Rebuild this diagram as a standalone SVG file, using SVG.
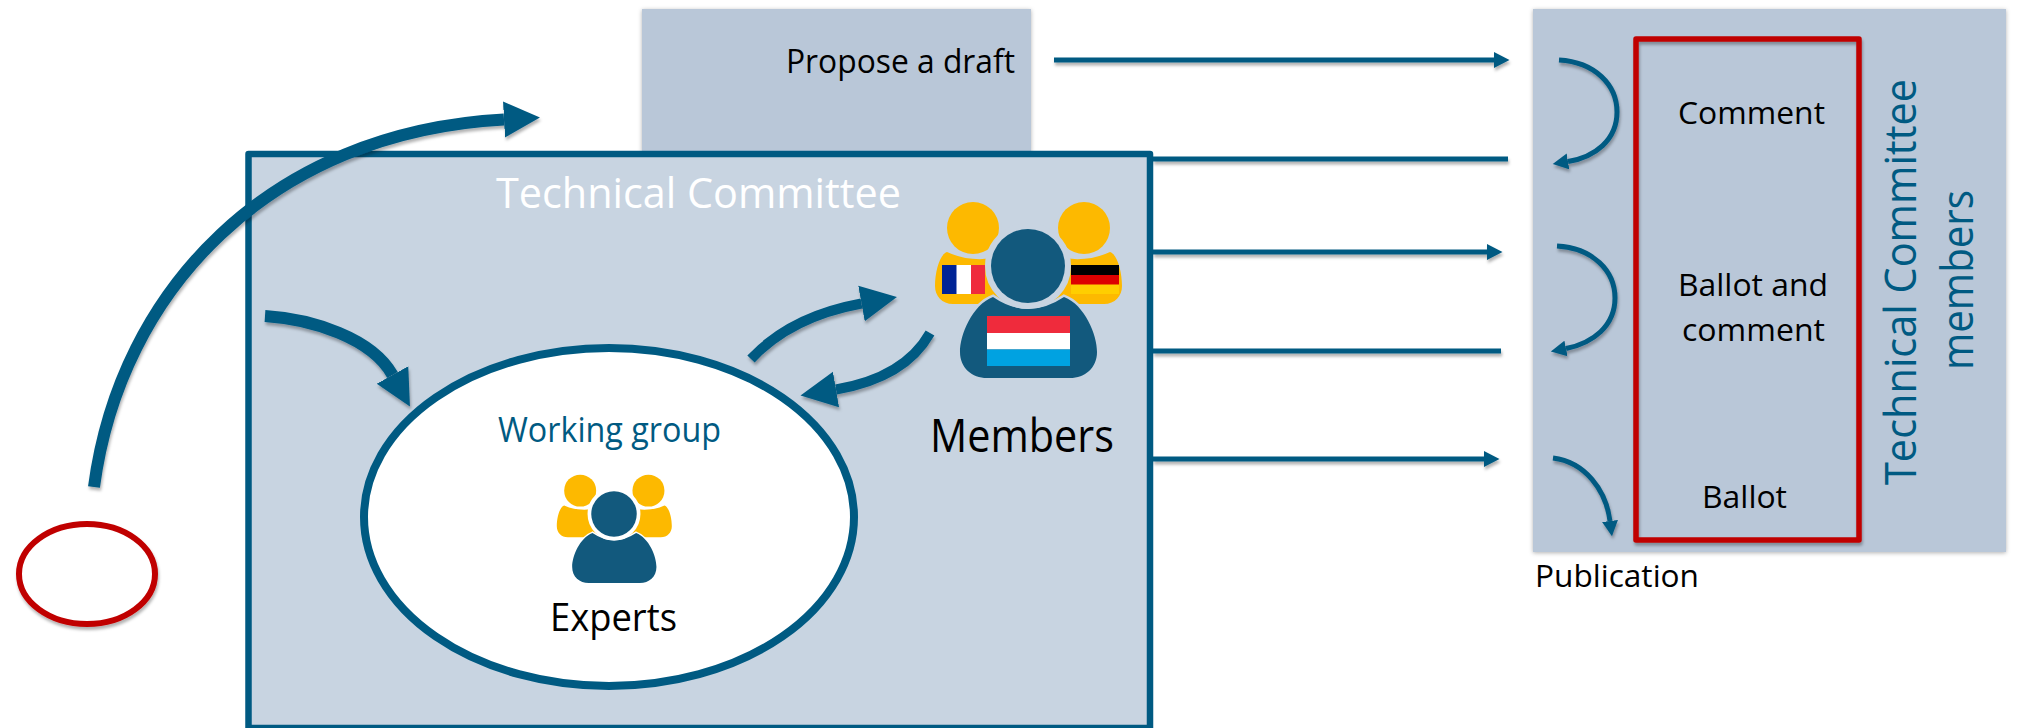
<svg xmlns="http://www.w3.org/2000/svg" xmlns:xlink="http://www.w3.org/1999/xlink" width="2018" height="728" viewBox="0 0 2018 728">
<style>
text{font-family:"Open Sans","Noto Sans","Liberation Sans",sans-serif;fill:#000}
.blue{fill:#005a82}
.white{fill:#fff}
.thin{fill:none;stroke:#005a82;stroke-width:5;marker-end:url(#hs);filter:url(#sh)}
.line{fill:none;stroke:#005a82;stroke-width:5;filter:url(#sh)}
.thick{fill:none;stroke:#005a82;stroke-width:12;marker-end:url(#hb);filter:url(#sh)}
.mid{fill:none;stroke:#005a82;stroke-width:10;marker-end:url(#hb);filter:url(#sh)}
.panel{fill:#b9c7d8;filter:url(#sh2)}
.y{fill:#fdb900}
.b{fill:#12597d}
</style>
<defs>
<filter id="sh" filterUnits="userSpaceOnUse" x="0" y="0" width="2018" height="728"><feDropShadow dx="1" dy="3" stdDeviation="1.800" flood-color="#000" flood-opacity="0.3"/></filter>
<filter id="sh2" filterUnits="userSpaceOnUse" x="0" y="0" width="2018" height="728"><feDropShadow dx="0" dy="1" stdDeviation="2" flood-color="#000" flood-opacity="0.3"/></filter>
<marker id="hs" markerUnits="userSpaceOnUse" markerWidth="18" markerHeight="20" refX="0" refY="10" orient="auto"><path d="M0 2L15.500 10L0 18Z" fill="#005a82"/></marker>
<marker id="hb" markerUnits="userSpaceOnUse" markerWidth="38" markerHeight="38" refX="0" refY="19" orient="auto"><path d="M0 1L36 19L0 37Z" fill="#005a82"/></marker>
<g id="people">
<path class="y" d="M-81-14C-88-12-93 5-93 20C-93 30-86 38-75 38L-25 38L-25-10Q-55-2-81-14Z"/>
<path class="y" d="M82-14C89-12 94 5 94 20C94 30 87 38 76 38L26 38L26-10Q56-2 82-14Z"/>
<circle class="y" cx="-55" cy="-38" r="26" stroke="currentColor" stroke-width="6" paint-order="stroke"/>
<circle class="y" cx="56" cy="-38" r="26" stroke="currentColor" stroke-width="6" paint-order="stroke"/>
<path class="b" d="M-35 31C-56 39-68 69-68 86C-68 102-56 112-41 112L42 112C57 112 69 102 69 86C69 69 57 39 36 31Q0 55-35 31Z" stroke="currentColor" stroke-width="5" paint-order="stroke"/>
<circle class="b" cx="0" cy="0" r="37" stroke="currentColor" stroke-width="12" paint-order="stroke"/>
</g>
</defs>

<g id="draft-box">
<rect class="panel" x="642" y="9" width="389" height="143"/>
<text x="786" y="73" font-size="32" textLength="229" lengthAdjust="spacingAndGlyphs">Propose a draft</text>
</g>

<g id="technical-committee">
<rect x="248.500" y="154" width="901.500" height="574" fill="#c8d4e1" stroke="#005a82" stroke-width="6.500" stroke-linejoin="round"/>
<text class="white" x="496" y="208" font-size="42" textLength="405" lengthAdjust="spacingAndGlyphs">Technical Committee</text>
</g>

<g id="tc-panel">
<rect class="panel" x="1533" y="9" width="473" height="543"/>
<text class="blue" transform="translate(1916 485) rotate(-90)" font-size="44" textLength="406" lengthAdjust="spacingAndGlyphs">Technical Committee</text>
<text class="blue" transform="translate(1973 370) rotate(-90)" font-size="44" textLength="180" lengthAdjust="spacingAndGlyphs">members</text>
</g>

<g id="ballot-box">
<rect x="1636" y="39" width="223" height="501" fill="none" stroke="#c00000" stroke-width="5.500" stroke-linejoin="round" filter="url(#sh)"/>
<text x="1678" y="124" font-size="31" textLength="147" lengthAdjust="spacingAndGlyphs">Comment</text>
<text x="1678" y="296" font-size="31" textLength="150" lengthAdjust="spacingAndGlyphs">Ballot and</text>
<text x="1682" y="341" font-size="31" textLength="143" lengthAdjust="spacingAndGlyphs">comment</text>
<text x="1702" y="508" font-size="31" textLength="85" lengthAdjust="spacingAndGlyphs">Ballot</text>
</g>

<g id="publication">
<text x="1535" y="587" font-size="31" textLength="164" lengthAdjust="spacingAndGlyphs">Publication</text>
</g>

<g id="start">
<ellipse cx="87" cy="574" rx="68" ry="50" fill="#fff" stroke="#c00000" stroke-width="6" filter="url(#sh)"/>
</g>

<g id="working-group">
<ellipse cx="609" cy="517" rx="245" ry="169" fill="#fff" stroke="#005a82" stroke-width="8"/>
<text class="blue" x="498" y="442" font-size="34" textLength="223" lengthAdjust="spacingAndGlyphs">Working group</text>
<use href="#people" xlink:href="#people" transform="translate(614 514) scale(.615)" color="#fff"/>
<text x="550" y="631" font-size="39" textLength="127" lengthAdjust="spacingAndGlyphs">Experts</text>
</g>

<g id="members">
<use href="#people" xlink:href="#people" transform="translate(1028 266)" color="#c8d4e1"/>
<rect x="942" y="265" width="15" height="29" fill="#002395"/>
<rect x="956.500" y="265" width="14.500" height="29" fill="#fff"/>
<rect x="971" y="265" width="14" height="29" fill="#ef2b3c"/>
<rect x="1071" y="265" width="48" height="10" fill="#000"/>
<rect x="1071" y="275" width="48" height="10" fill="#dd0000"/>
<rect x="1071" y="284.500" width="48" height="9.500" fill="#ffce00"/>
<rect x="987" y="316" width="83" height="17" fill="#ef2b3c"/>
<rect x="987" y="333" width="83" height="16.500" fill="#fff"/>
<rect x="987" y="349.500" width="83" height="16.500" fill="#00a2e1"/>
<text x="930" y="452" font-size="46" textLength="184" lengthAdjust="spacingAndGlyphs">Members</text>
</g>

<g id="connectors">
<path class="thick" d="M94 487C120 290 270 132 504 119.500"/>
<path class="thick" d="M265 316C312 319 372 338 392.500 375"/>
<path class="mid" d="M751 359C778 330 815 312 861.500 303.500"/>
<path class="mid" d="M930 333C912 365 880 382 836 389.500"/>
<path class="thin" d="M1054 60H1494"/>
<path class="line" d="M1153 159H1508"/>
<path class="thin" d="M1153 252H1487"/>
<path class="line" d="M1153 351H1501"/>
<path class="thin" d="M1153 459H1484"/>
<path class="thin" d="M1559 60C1595 62 1617 85 1617 112C1617 140 1595 157 1568 161.500"/>
<path class="thin" d="M1557 246C1593 248 1615 271 1615 298C1615 326 1593 343 1566 348.500"/>
<path class="thin" d="M1553 458C1585 462 1606 490 1610 521"/>
</g>
</svg>
